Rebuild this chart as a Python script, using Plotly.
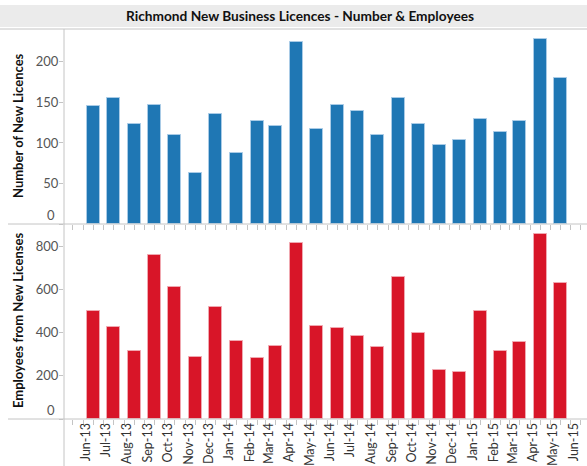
import plotly.graph_objects as go
from plotly.subplots import make_subplots

# Monthly data, Jun-13 .. May-15
months = [
    "2013-06", "2013-07", "2013-08", "2013-09", "2013-10", "2013-11",
    "2013-12", "2014-01", "2014-02", "2014-03", "2014-04", "2014-05",
    "2014-06", "2014-07", "2014-08", "2014-09", "2014-10", "2014-11",
    "2014-12", "2015-01", "2015-02", "2015-03", "2015-04", "2015-05",
]
new_licences = [
    146, 155, 124, 147, 110, 63, 136, 88, 127, 121, 225, 117,
    147, 140, 110, 156, 123, 97, 104, 130, 113, 127, 228, 180,
]
employees = [
    498, 426, 315, 759, 613, 285, 518, 361, 281, 336, 813, 430,
    421, 383, 332, 656, 397, 225, 216, 498, 315, 356, 856, 628,
]
licence_ticks = [0, 50, 100, 150, 200]
employee_ticks = [0, 200, 400, 600, 800]

# bars sit in the middle of their month
bar_dates = [m + "-16" for m in months]

BLUE = "#1f77b4"
RED = "#d81528"
GRID = "#c4c4c4"
FONT = "Lato"
DAY_MS = 86400000

fig = make_subplots(rows=2, cols=1, shared_xaxes=True, vertical_spacing=0)

fig.add_trace(
    go.Bar(
        x=bar_dates,
        y=new_licences,
        width=19.5 * DAY_MS,
        marker=dict(color=BLUE, line=dict(color="#a9cbe6", width=1)),
        showlegend=False,
    ),
    row=1,
    col=1,
)
fig.add_trace(
    go.Bar(
        x=bar_dates,
        y=employees,
        width=19.5 * DAY_MS,
        marker=dict(color=RED, line=dict(color="#f0a8b0", width=1)),
        showlegend=False,
    ),
    row=2,
    col=1,
)

# layout in pixels: plot area spans x 64..585, y 29..419
W, H = 587, 466
L, R, T, B = 64, 2, 29, 47
pw = W - L - R
ph = H - T - B


def px_x(px):
    return (px - L) / pw


def px_y(py):
    return (H - B - py) / ph


x_range = ["2013-05-03", "2015-06-22"]

axis_common = dict(
    type="date",
    range=x_range,
    dtick="M1",
    tick0="2013-06-01",
    ticks="outside",
    ticklen=5,
    tickcolor=GRID,
    showgrid=False,
    zeroline=False,
    showline=False,
    automargin=False,
    minor=dict(ticks="outside", ticklen=5, tickcolor=GRID, dtick="M1", tick0="2013-05-16"),
)
fig.update_xaxes(showticklabels=False, **axis_common, row=1, col=1)
fig.update_xaxes(
    showticklabels=True,
    tickformat="%b-%y",
    tickangle=-90,
    ticklabelstandoff=-7,
    ticklabelshift=3,
    tickfont=dict(family=FONT, size=12.5, color="#333333"),
    **axis_common,
    row=2,
    col=1,
)

yaxis_common = dict(
    showgrid=False,
    zeroline=False,
    showline=False,
    automargin=False,
    ticks="outside",
    ticklen=4,
    tickcolor=GRID,
    ticklabelstandoff=-2,
    tickfont=dict(family=FONT, size=13, color="#555555"),
)
# the zero labels are drawn as annotations, nudged up like the original
fig.update_yaxes(range=[0, 240.6], tickvals=licence_ticks,
                 ticktext=[""] + [str(v) for v in licence_ticks[1:]], **yaxis_common, row=1, col=1)
fig.update_yaxes(range=[0, 903], tickvals=employee_ticks,
                 ticktext=[""] + [str(v) for v in employee_ticks[1:]], **yaxis_common, row=2, col=1)

# frame lines and title band
shapes = [
    dict(type="rect", xref="paper", yref="paper", x0=px_x(0), x1=px_x(W), y0=px_y(27), y1=px_y(5),
         fillcolor="#ebebeb", line=dict(width=0), layer="above"),
    dict(type="line", xref="paper", yref="paper", x0=px_x(0), x1=px_x(W), y0=px_y(29), y1=px_y(29),
         line=dict(color=GRID, width=1), layer="above"),
    dict(type="line", xref="paper", yref="paper", x0=px_x(8), x1=px_x(W), y0=px_y(224), y1=px_y(224),
         line=dict(color=GRID, width=1), layer="above"),
    dict(type="line", xref="paper", yref="paper", x0=px_x(8), x1=px_x(W), y0=px_y(419), y1=px_y(419),
         line=dict(color=GRID, width=1), layer="above"),
    dict(type="line", xref="paper", yref="paper", x0=px_x(64), x1=px_x(64), y0=px_y(29), y1=px_y(H),
         line=dict(color=GRID, width=1), layer="above"),
]

annotations = [
    dict(text="<b>Richmond New Business Licences - Number & Employees</b>", xref="paper", yref="paper",
         x=px_x(300), y=px_y(16), xanchor="center", yanchor="middle", showarrow=False,
         font=dict(family=FONT, size=13.7, color="#111111")),
    dict(text="<b>Number of New Licences</b>", xref="paper", yref="paper",
         x=px_x(18), y=px_y(126), xanchor="center", yanchor="middle", textangle=-90, showarrow=False,
         font=dict(family=FONT, size=13, color="#111111")),
    dict(text="<b>Employees from New Licenses</b>", xref="paper", yref="paper",
         x=px_x(18), y=px_y(321), xanchor="center", yanchor="middle", textangle=-90, showarrow=False,
         font=dict(family=FONT, size=13, color="#111111")),
    dict(text="0", xref="paper", yref="y", x=px_x(57), y=0, yshift=9,
         xanchor="right", yanchor="middle", showarrow=False,
         font=dict(family=FONT, size=13, color="#555555")),
    dict(text="0", xref="paper", yref="y2", x=px_x(57), y=0, yshift=9,
         xanchor="right", yanchor="middle", showarrow=False,
         font=dict(family=FONT, size=13, color="#555555")),
]

fig.update_layout(
    width=W,
    height=H,
    margin=dict(l=L, r=R, t=T, b=B),
    paper_bgcolor="white",
    plot_bgcolor="white",
    bargap=0,
    shapes=shapes,
    annotations=annotations,
    showlegend=False,
)

# drop the page's default body margin so the figure fills the window
fig.write_html(
    "out.html",
    config={"displayModeBar": False},
    post_script="document.body.style.margin='0';",
)
